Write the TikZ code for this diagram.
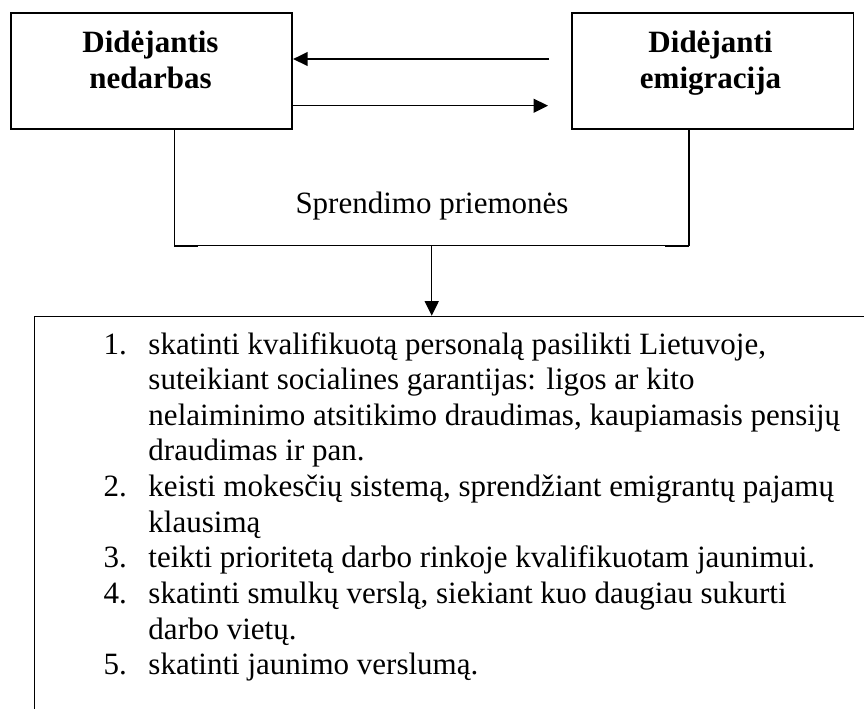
\documentclass[tikz,border=0pt]{standalone}
\usepackage{fontspec}
\setmainfont{Liberation Serif}
\usepackage{tikz}
\usetikzlibrary{arrows.meta,positioning,calc}
\tikzset{
  boxnode/.style={draw, line width=0.65pt, minimum width=109pt, minimum height=45pt, inner sep=0pt},
  heading/.style={font=\fontsize{12}{14.1}\selectfont\bfseries, align=center, inner sep=0pt},
  plaintext/.style={font=\fontsize{12}{13.8}\selectfont, inner sep=0pt},
  rodykle/.style={-{Triangle[length=5.6pt,width=5.4pt]}, line width=0.55pt},
  jungtis/.style={line width=0.45pt},
}

\begin{document}
\begin{tikzpicture}[x=0.387pt, y=-0.387pt]
        \useasboundingbox (0,0) rectangle (864,708);
        \clip (0,0) rectangle (864,708);
        \node[boxnode] (nedarbas) at (151.5,70.8) {};
        \node[boxnode] (emigracija) at (712.8,70.8) {};
        \node[heading, anchor=north] (nedarbasT) at (150.5,30.5) {Didėjantis\\nedarbas};
        \node[heading, anchor=north] (emigracijaT) at (710.5,30.5) {Didėjanti\\emigracija};
        \coordinate (pradziaV) at (549,59);
        \coordinate (galasA) at (548,105.7);
        \draw[rodykle] (pradziaV) -- (nedarbas.east |- pradziaV);
        \draw[rodykle] (nedarbas.east |- galasA) -- (galasA);
        \coordinate (kampasK) at (174.3,245.7);
        \coordinate (kampasD) at (689,245.7);
        \coordinate (vidurys) at (431.7,245.7);
        \draw[jungtis] (nedarbas.south -| kampasK) -- (kampasK) -- (kampasD) -- (emigracija.south -| kampasD);
        \draw[line width=0.8pt] (kampasK) -- ++(24,0); \draw[line width=0.8pt] (kampasD) -- ++(-24,0);
        \node[plaintext, anchor=base] (sprendimo) at (432,213) {Sprendimo priemonės};
        \node[draw, line width=0.6pt, anchor=north west, minimum width=335pt, minimum height=172pt, inner sep=0pt] (priemones) at (33.5,315.7) {};
        \draw[rodykle] (vidurys) -- (priemones.north -| vidurys);
        \node[plaintext, anchor=base west] (punktai) at (103,354) {%
          \begin{tabular}[t]{@{}p{17.4pt}@{}l@{}}
            1. & skatinti kvalifikuotą personalą pasilikti Lietuvoje,\\
               & suteikiant socialines garantijas: ligos ar kito\\
               & nelaiminimo atsitikimo draudimas, kaupiamasis pensijų\\
               & draudimas ir pan.\\
            2. & keisti mokesčių sistemą, sprendžiant emigrantų pajamų\\
               & klausimą\\
            3. & teikti prioritetą darbo rinkoje kvalifikuotam jaunimui.\\
            4. & skatinti smulkų verslą, siekiant kuo daugiau sukurti\\
               & darbo vietų.\\
            5. & skatinti jaunimo verslumą.
          \end{tabular}};
      \end{tikzpicture}
\end{document}
